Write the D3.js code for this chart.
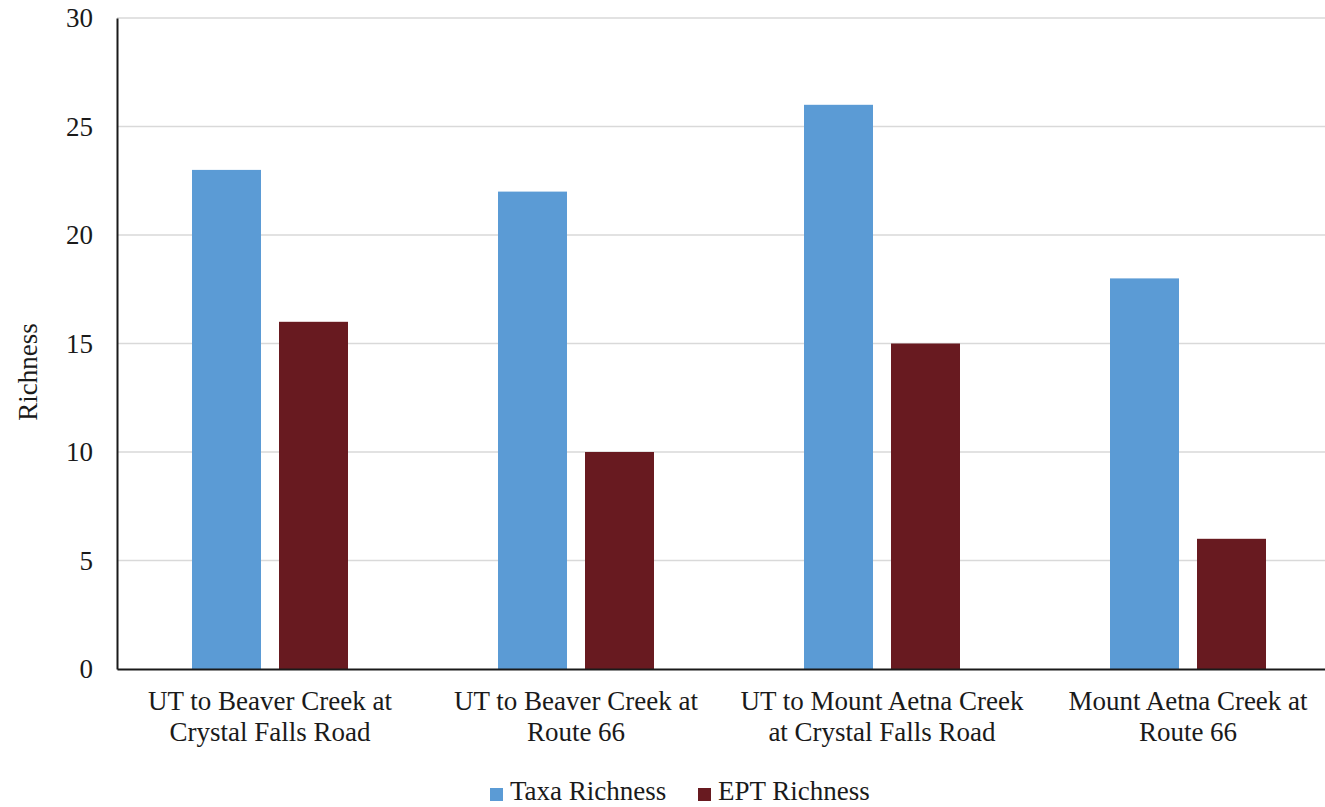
<!DOCTYPE html>
<html>
<head>
<meta charset="utf-8">
<script src="https://cdn.jsdelivr.net/npm/d3@7"></script>
<style>
  html, body { margin: 0; padding: 0; background: #fff; }
  svg { display: block; }
</style>
</head>
<body>
<svg id="chart" width="1325" height="807"></svg>
<script>
// Sampling sites (two-line labels)
const sites = [
  ["UT to Beaver Creek at", "Crystal Falls Road"],
  ["UT to Beaver Creek at", "Route 66"],
  ["UT to Mount Aetna Creek", "at Crystal Falls Road"],
  ["Mount Aetna Creek at", "Route 66"]
];
const seriesNames = ["Taxa Richness", "EPT Richness"];
const taxaRichness = [23, 22, 26, 18];
const eptRichness = [16, 10, 15, 6];
const yTicks = [0, 5, 10, 15, 20, 25, 30];
const colors = ["#5b9bd5", "#681a20"];

const FONT = "'Liberation Serif', 'Times New Roman', 'DejaVu Serif', serif";
const FS = 27;
const INK = "#1a1a1a";

const svg = d3.select("#chart");
const plotLeft = 117, plotRight = 1341, plotTop = 18, plotBottom = 669;

const x0 = d3.scaleBand().domain(d3.range(sites.length)).range([plotLeft, plotRight]);
const x1 = d3.scaleBand().domain(seriesNames).range([0, x0.bandwidth()]).paddingInner(0.207).paddingOuter(0.862);
const y = d3.scaleLinear().domain([0, 30]).range([plotBottom, plotTop]);

// Gridlines
svg.append("g")
  .selectAll("line")
  .data(yTicks.filter(d => d > 0))
  .join("line")
  .attr("x1", plotLeft).attr("x2", 1325)
  .attr("y1", d => y(d)).attr("y2", d => y(d))
  .attr("stroke", "#d9d9d9").attr("stroke-width", 1.5);

// Bars
const rows = sites.map((s, i) => [taxaRichness[i], eptRichness[i]]);
const groups = svg.append("g").selectAll("g")
  .data(rows)
  .join("g")
  .attr("transform", (d, i) => `translate(${x0(i)},0)`);
groups.selectAll("rect")
  .data(d => d.map((v, j) => ({ key: seriesNames[j], v, j })))
  .join("rect")
  .attr("x", d => x1(d.key))
  .attr("width", x1.bandwidth())
  .attr("y", d => y(d.v))
  .attr("height", d => y(0) - y(d.v))
  .attr("fill", d => colors[d.j]);

// Y axis
const yAxis = svg.append("g")
  .attr("transform", `translate(${plotLeft},0)`)
  .call(d3.axisLeft(y).tickValues(yTicks).tickSize(0).tickPadding(24).tickFormat(d3.format("d")));
yAxis.attr("font-family", FONT).attr("font-size", FS);
yAxis.select(".domain").attr("stroke", INK).attr("stroke-width", 2);
yAxis.selectAll("text").attr("fill", INK);

// X axis
const xAxis = svg.append("g")
  .attr("transform", `translate(0,${plotBottom})`)
  .call(d3.axisBottom(x0).tickSize(0).tickFormat(""));
xAxis.select(".domain").attr("stroke", INK).attr("stroke-width", 2);

// Category labels
const labels = svg.append("g")
  .attr("font-family", FONT).attr("font-size", FS).attr("fill", INK)
  .selectAll("text")
  .data(sites)
  .join("text")
  .attr("x", (d, i) => x0(i) + x0.bandwidth() / 2)
  .attr("y", 710)
  .attr("text-anchor", "middle");
labels.selectAll("tspan")
  .data(d => d)
  .join("tspan")
  .attr("x", function () { return d3.select(this.parentNode).attr("x"); })
  .attr("dy", (d, i) => i === 0 ? 0 : 31)
  .text(d => d);

// Y axis title
svg.append("text")
  .attr("transform", "translate(37,372) rotate(-90)")
  .attr("text-anchor", "middle")
  .attr("font-family", FONT).attr("font-size", FS).attr("fill", INK)
  .text("Richness");

// Legend
const legendItems = [
  { name: seriesNames[0], color: colors[0], x: 490 },
  { name: seriesNames[1], color: colors[1], x: 698 }
];
const lg = svg.append("g").selectAll("g").data(legendItems).join("g")
  .attr("transform", d => `translate(${d.x},788)`);
lg.append("rect").attr("width", 13).attr("height", 13).attr("fill", d => d.color);
lg.append("text").attr("x", 20).attr("y", 12)
  .attr("font-family", FONT).attr("font-size", FS).attr("fill", INK)
  .text(d => d.name);
</script>
</body>
</html>
